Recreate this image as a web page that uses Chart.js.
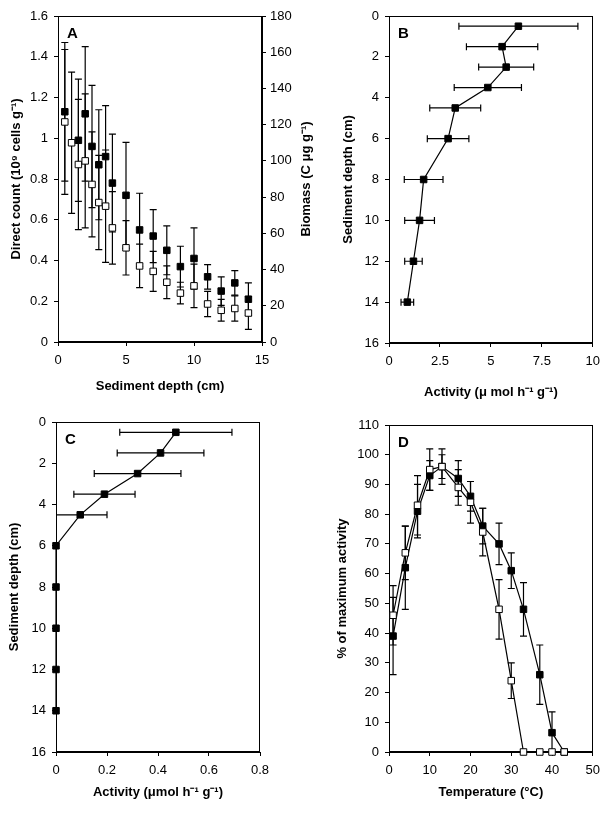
<!DOCTYPE html>
<html>
<head>
<meta charset="utf-8">
<script src="https://cdn.jsdelivr.net/npm/chart.js@4.4.1/dist/chart.umd.min.js"></script>
<style>
  html, body { margin: 0; padding: 0; background: #fff; }
  body { width: 607px; height: 815px; position: relative; overflow: hidden; }
  .panel { position: absolute; }
  #boxA { left: 0; top: 0; width: 320px; height: 400px; }
  #boxB { left: 320px; top: 0; width: 287px; height: 400px; }
  #boxC { left: 0; top: 400px; width: 320px; height: 415px; }
  #boxD { left: 320px; top: 400px; width: 287px; height: 415px; }
</style>
</head>
<body>
<div class="panel" id="boxA"><canvas id="chartA"></canvas></div>
<div class="panel" id="boxB"><canvas id="chartB"></canvas></div>
<div class="panel" id="boxC"><canvas id="chartC"></canvas></div>
<div class="panel" id="boxD"><canvas id="chartD"></canvas></div>
<script>
// A: direct count (left axis) and biomass (right axis) vs depth
const aDepthCount = [0.5, 1.5, 2, 2.5, 3, 3.5, 4, 5, 6, 7, 8, 9, 10, 11, 12, 13, 14];
const aCount = [1.13, 0.99, 1.12, 0.96, 0.87, 0.91, 0.78, 0.72, 0.55, 0.52, 0.45, 0.37, 0.41, 0.32, 0.25, 0.29, 0.21];
const aCountErr = [0.34, 0.30, 0.33, 0.30, 0.27, 0.25, 0.24, 0.26, 0.18, 0.13, 0.12, 0.10, 0.15, 0.06, 0.07, 0.06, 0.08];
const aDepthBiomass = [0.5, 1, 1.5, 2, 2.5, 3, 3.5, 4, 5, 6, 7, 8, 9, 10, 11, 12, 13, 14];
const aBiomass = [121.5, 110, 98, 100, 87, 77, 75, 63, 52, 42, 39, 33, 27, 31, 21, 17.5, 18.5, 16];
const aBiomassErr = [40, 39, 36, 37, 29, 26, 31, 20, 15, 12, 11, 9, 6, 12, 7, 6, 7, 9];

// B: activity profile
const bDepth = [0.5, 1.5, 2.5, 3.5, 4.5, 6, 8, 10, 12, 14];
const bActivity = [6.35, 5.55, 5.75, 4.85, 3.25, 2.9, 1.7, 1.5, 1.2, 0.9];
const bErr = [2.92, 1.75, 1.35, 1.65, 1.25, 1.02, 0.95, 0.73, 0.43, 0.31];

// C: activity profile
const cDepth = [0.5, 1.5, 2.5, 3.5, 4.5, 6, 8, 10, 12, 14];
const cActivity = [0.47, 0.41, 0.32, 0.19, 0.095, 0, 0, 0, 0, 0];
const cErr = [0.22, 0.17, 0.17, 0.12, 0.105, 0, 0, 0, 0, 0];

// D: temperature response
const dTemp = [1, 4, 7, 10, 13, 17, 20, 23, 27, 30, 33, 37, 40, 43];
const dFilled = [39, 62, 81, 93, 96, 92, 86, 76, 70, 61, 48, 26, 6.5, 0];
const dFilledErr = [13, 14, 9, 5, 6, 6, 5, 6, 7, 6, 9, 10, 7, 0];
const dOpen = [46, 67, 83, 95, 96, 89, 84, 74, 48, 24, 0, 0, 0, 0];
const dOpenErr = [10, 9, 10, 7, 4, 6, 7, 8, 10, 6, 0, 0, 0, 0];

Chart.defaults.font.family = "'Liberation Sans', Arial, sans-serif";
Chart.defaults.font.size = 13;
Chart.defaults.color = '#000';

const toPts = (xs, ys) => xs.map((x, i) => ({ x: x, y: ys[i] }));

// error bars drawn under the markers
const errorBars = {
    id: 'errorBars',
    beforeDatasetsDraw(chart) {
        const { ctx, chartArea: a } = chart;
        ctx.save();
        ctx.beginPath();
        ctx.rect(a.left, a.top, a.right - a.left, a.bottom - a.top);
        ctx.clip();
        ctx.strokeStyle = '#000';
        ctx.lineWidth = 1.2;
        const cap = 3.5;
        chart.data.datasets.forEach((ds, i) => {
            if (!ds.errors) return;
            const meta = chart.getDatasetMeta(i);
            const xs = chart.scales[meta.xAxisID];
            const ys = chart.scales[meta.yAxisID];
            ds.data.forEach((p, j) => {
                const e = ds.errors[j];
                if (!e) return;
                ctx.beginPath();
                if (ds.errorDir === 'x') {
                    const y = ys.getPixelForValue(p.y);
                    const x1 = xs.getPixelForValue(p.x - e), x2 = xs.getPixelForValue(p.x + e);
                    ctx.moveTo(x1, y); ctx.lineTo(x2, y);
                    ctx.moveTo(x1, y - cap); ctx.lineTo(x1, y + cap);
                    ctx.moveTo(x2, y - cap); ctx.lineTo(x2, y + cap);
                } else {
                    const x = xs.getPixelForValue(p.x);
                    const y1 = ys.getPixelForValue(p.y - e), y2 = ys.getPixelForValue(p.y + e);
                    ctx.moveTo(x, y1); ctx.lineTo(x, y2);
                    ctx.moveTo(x - cap, y1); ctx.lineTo(x + cap, y1);
                    ctx.moveTo(x - cap, y2); ctx.lineTo(x + cap, y2);
                }
                ctx.stroke();
            });
        });
        ctx.restore();
    }
};

// box round the plot area
const frame = {
    id: 'frame',
    beforeDatasetsDraw(chart) {
        const { ctx, chartArea: a } = chart;
        const l = Math.round(a.left) + 0.5, t = Math.round(a.top) + 0.5;
        const r = Math.round(a.right) - 0.5, b = Math.round(a.bottom) - 0.5;
        ctx.save();
        ctx.strokeStyle = '#000';
        ctx.lineWidth = 1;
        ctx.strokeRect(l, t, r - l, b - t);
        ctx.restore();
    }
};

// panel letter and right-hand title
const labels = {
    id: 'labels',
    afterDraw(chart, args, opts) {
        const { ctx, chartArea: a } = chart;
        ctx.save();
        ctx.fillStyle = '#000';
        if (opts.letter) {
            ctx.font = "bold 15px 'Liberation Sans', Arial, sans-serif";
            ctx.textBaseline = 'alphabetic';
            ctx.fillText(opts.letter, a.left + 9, a.top + 22);
        }
        if (opts.side) {
            ctx.font = "bold 13px 'Liberation Sans', Arial, sans-serif";
            ctx.translate(a.right + opts.sideOffset, (a.top + a.bottom) / 2);
            ctx.rotate(-Math.PI / 2);
            ctx.textAlign = 'center';
            ctx.textBaseline = 'middle';
            ctx.fillText(opts.side, 0, 0);
        }
        ctx.restore();
    }
};

function axis(o) {
    const vertical = o.position === 'left' || o.position === 'right';
    return {
        type: 'linear',
        position: o.position,
        min: o.min,
        max: o.max,
        reverse: !!o.reverse,
        ticks: {
            stepSize: o.step,
            padding: o.pad,
            color: '#000',
            font: { size: 13 },
            maxRotation: 0,
            autoSkip: false,
            callback: v => String(parseFloat(Number(v).toFixed(3)))
        },
        grid: { drawOnChartArea: false, drawTicks: true, tickLength: 4, color: '#000', lineWidth: 1 },
        border: { display: true, color: '#000', width: 1 },
        title: o.title ? {
            display: true,
            text: o.title,
            color: '#000',
            font: { size: 13, weight: 'bold' },
            padding: vertical ? { top: o.titlePad, bottom: 0 } : { top: 0, bottom: o.titlePad }
        } : { display: false },
        afterFit: s => {
            if (vertical) s.width = o.size; else s.height = o.size;
        }
    };
}

function squares(data, filled, extra) {
    return Object.assign({
        data: data,
        pointStyle: 'rect',
        pointRadius: 4.6,
        pointBorderWidth: 1,
        pointBackgroundColor: filled ? '#000' : '#fff',
        pointBorderColor: '#000',
        borderColor: '#000',
        backgroundColor: filled ? '#000' : '#fff',
        borderWidth: 1.2,
        showLine: true,
        clip: false
    }, extra);
}

const common = {
    responsive: true,
    maintainAspectRatio: false,
    animation: false,
    events: []
};

// A
new Chart(document.getElementById('chartA'), {
    type: 'scatter',
    data: {
        datasets: [
            squares(toPts(aDepthCount, aCount), true, { yAxisID: 'y', showLine: false, errors: aCountErr, errorDir: 'y' }),
            squares(toPts(aDepthBiomass, aBiomass), false, { yAxisID: 'y2', showLine: false, errors: aBiomassErr, errorDir: 'y' })
        ]
    },
    options: Object.assign({}, common, {
        layout: { padding: { top: 16, left: 0, right: 0, bottom: 0 } },
        scales: {
            x: axis({ position: 'bottom', min: 0, max: 15, step: 5, pad: 7, size: 58, title: 'Sediment depth (cm)', titlePad: 6 }),
            y: axis({ position: 'left', min: 0, max: 1.6, step: 0.2, pad: 6, size: 58, title: 'Direct count (10⁹ cells g⁻¹)', titlePad: 9 }),
            y2: axis({ position: 'right', min: 0, max: 180, step: 20, pad: 4, size: 58 })
        },
        plugins: {
            legend: { display: false },
            tooltip: { enabled: false },
            labels: { letter: 'A', side: 'Biomass (C μg g⁻¹)', sideOffset: 44 }
        }
    }),
    plugins: [frame, errorBars, labels]
});

// B
new Chart(document.getElementById('chartB'), {
    type: 'scatter',
    data: {
        datasets: [
            squares(toPts(bActivity, bDepth), true, { errors: bErr, errorDir: 'x' })
        ]
    },
    options: Object.assign({}, common, {
        layout: { padding: { top: 16, left: 0, right: 14, bottom: 0 } },
        scales: {
            x: axis({ position: 'bottom', min: 0, max: 10, step: 2.5, pad: 7, size: 57, title: 'Activity (μ mol h⁻¹ g⁻¹)', titlePad: 0 }),
            y: axis({ position: 'left', min: 0, max: 16, step: 2, pad: 6, size: 69, reverse: true, title: 'Sediment depth (cm)', titlePad: 21 })
        },
        plugins: {
            legend: { display: false },
            tooltip: { enabled: false },
            labels: { letter: 'B' }
        }
    }),
    plugins: [frame, errorBars, labels]
});

// C
new Chart(document.getElementById('chartC'), {
    type: 'scatter',
    data: {
        datasets: [
            squares(toPts(cActivity, cDepth), true, { errors: cErr, errorDir: 'x' })
        ]
    },
    options: Object.assign({}, common, {
        layout: { padding: { top: 22, left: 0, right: 60, bottom: 0 } },
        scales: {
            x: axis({ position: 'bottom', min: 0, max: 0.8, step: 0.2, pad: 7, size: 63, title: 'Activity (μmol h⁻¹ g⁻¹)', titlePad: 15 }),
            y: axis({ position: 'left', min: 0, max: 16, step: 2, pad: 6, size: 56, reverse: true, title: 'Sediment depth (cm)', titlePad: 7 })
        },
        plugins: {
            legend: { display: false },
            tooltip: { enabled: false },
            labels: { letter: 'C' }
        }
    }),
    plugins: [frame, errorBars, labels]
});

// D
new Chart(document.getElementById('chartD'), {
    type: 'scatter',
    data: {
        datasets: [
            squares(toPts(dTemp, dFilled), true, { order: 2, errors: dFilledErr, errorDir: 'y' }),
            squares(toPts(dTemp, dOpen), false, { order: 1, errors: dOpenErr, errorDir: 'y' })
        ]
    },
    options: Object.assign({}, common, {
        layout: { padding: { top: 25, left: 0, right: 14, bottom: 0 } },
        scales: {
            x: axis({ position: 'bottom', min: 0, max: 50, step: 10, pad: 7, size: 63, title: 'Temperature (°C)', titlePad: 15 }),
            y: axis({ position: 'left', min: 0, max: 110, step: 10, pad: 6, size: 69, title: '% of maximum activity', titlePad: 15 })
        },
        plugins: {
            legend: { display: false },
            tooltip: { enabled: false },
            labels: { letter: 'D' }
        }
    }),
    plugins: [frame, errorBars, labels]
});
</script>
</body>
</html>
